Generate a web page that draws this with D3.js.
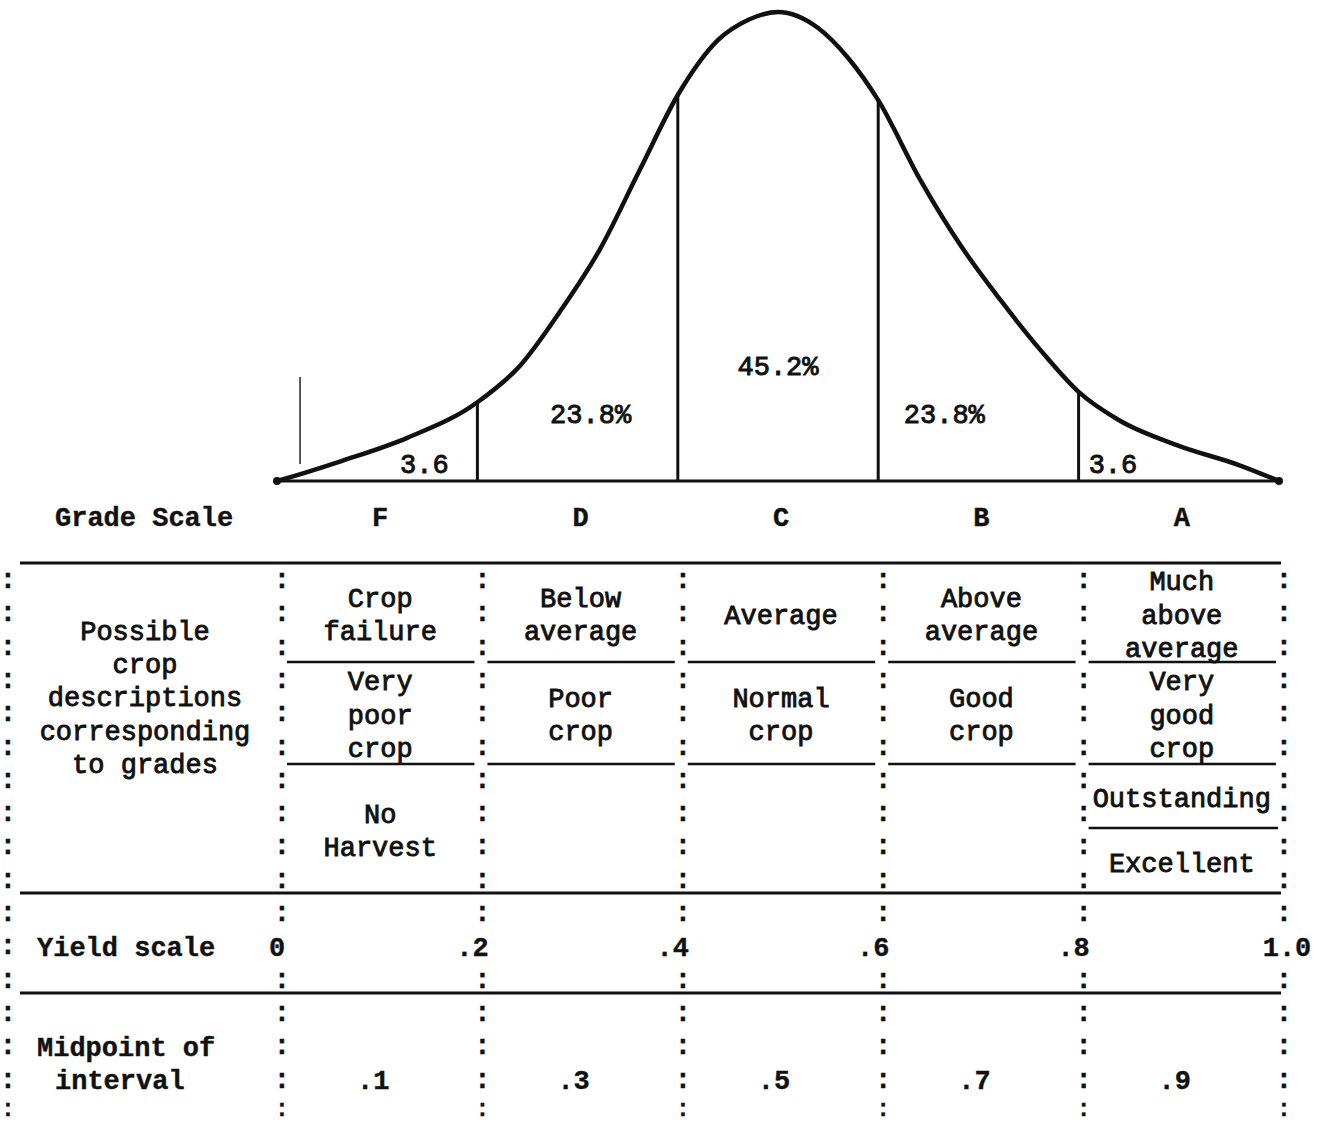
<!DOCTYPE html>
<html>
<head>
<meta charset="utf-8">
<script src="https://cdn.jsdelivr.net/npm/d3@7"></script>
<style>
  html, body { margin: 0; padding: 0; background: #fff; }
  svg { display: block; }
  text { font-family: 'Liberation Mono', 'DejaVu Sans Mono', monospace; fill: #111; }
</style>
</head>
<body>
<svg id="chart" width="1326" height="1124"></svg>
<script>
// ---------- data ----------
const grades = ["F", "D", "C", "B", "A"];
const gradePercents = ["3.6", "23.8%", "45.2%", "23.8%", "3.6"];
const yieldBounds = [0, 0.2, 0.4, 0.6, 0.8, 1.0];
const yieldLabels = ["0", ".2", ".4", ".6", ".8", "1.0"];
const midpoints = [0.1, 0.3, 0.5, 0.7, 0.9];
const midpointLabels = [".1", ".3", ".5", ".7", ".9"];

// hand-drawn distribution curve (relative height, peak = 100)
const curveYield   = [0, 0.03, 0.065, 0.13, 0.2, 0.243, 0.282, 0.322, 0.362, 0.4, 0.44, 0.47, 0.5, 0.54, 0.57, 0.6, 0.642, 0.682, 0.722, 0.762, 0.8, 0.84, 0.9, 0.96, 1.0];
const curveDensity = [0, 1.9, 4.3, 9.2, 16.8, 24.7, 36, 49.3, 66.3, 82.3, 94, 98.3, 100, 96.6, 90.2, 81.2, 64.2, 50.3, 38.6, 27.9, 19, 13, 7.5, 3.4, 0];

const descLabel = ["Possible", "crop", "descriptions", "corresponding", "to grades"];
const descRow1 = [["Crop", "failure"], ["Below", "average"], ["Average"], ["Above", "average"], ["Much", "above", "average"]];
const descRow2 = [["Very", "poor", "crop"], ["Poor", "crop"], ["Normal", "crop"], ["Good", "crop"], ["Very", "good", "crop"]];
const descRow3 = [["No", "Harvest"], [], [], [], ["Outstanding"]];
const descRow3b = [[], [], [], [], ["Excellent"]];

// ---------- layout ----------
const FS = 27;
const LH = 33.3;
const svg = d3.select("#chart");
const x = d3.scaleLinear().domain([0, 1]).range([277, 1279]);
const y = d3.scaleLinear().domain([0, 100]).range([481, 12]);

const pctPos = [0.147, 0.313, 0.5, 0.666, 0.833];
const pctY = [463, 413, 365, 413, 463];
const pctAnchor = ["middle", "middle", "middle", "middle", "start"];

function txt(g, s, tx, ty, opts = {}) {
  return g.append("text")
    .attr("x", tx).attr("y", ty)
    .attr("dy", "0.36em")
    .attr("text-anchor", opts.anchor || "middle")
    .attr("font-size", opts.size || FS)
    .attr("font-weight", opts.bold ? "bold" : "normal")
    .attr("stroke", "#111")
    .attr("stroke-width", opts.bold ? 0.4 : 0.9)
    .text(s);
}

// ---------- curve ----------
const gC = svg.append("g");
const pts = curveYield.map((v, i) => [v, curveDensity[i]]);
const line = d3.line().x(d => x(d[0])).y(d => y(d[1])).curve(d3.curveMonotoneX);

gC.append("line")
  .attr("x1", x(0) - 2).attr("x2", x(1) + 1)
  .attr("y1", y(0)).attr("y2", y(0))
  .attr("stroke", "#111").attr("stroke-width", 3);

yieldBounds.slice(1, -1).forEach(b => {
  const i = curveYield.indexOf(b);
  gC.append("line")
    .attr("x1", x(b)).attr("x2", x(b))
    .attr("y1", y(0)).attr("y2", y(curveDensity[i]))
    .attr("stroke", "#111").attr("stroke-width", 3);
});

gC.append("line")
  .attr("x1", x(0.023)).attr("x2", x(0.023))
  .attr("y1", 377).attr("y2", 464)
  .attr("stroke", "#222").attr("stroke-width", 1.5);

gC.append("path")
  .attr("d", line(pts))
  .attr("fill", "none")
  .attr("stroke", "#111")
  .attr("stroke-width", 4.5)
  .attr("stroke-linejoin", "round")
  .attr("stroke-linecap", "round");

[0, 1].forEach(v => gC.append("circle").attr("cx", x(v)).attr("cy", y(0)).attr("r", 4).attr("fill", "#111"));

gradePercents.forEach((p, i) => {
  txt(gC, p, x(pctPos[i]) + (pctAnchor[i] === "start" ? -23 : 0), pctY[i], { anchor: pctAnchor[i] });
});

// ---------- grade scale ----------
const gG = svg.append("g");
txt(gG, "Grade Scale", 55, 516, { anchor: "start", bold: true });
grades.forEach((g, i) => txt(gG, g, x(midpoints[i]) + 3, 516, { bold: true }));

// ---------- table ----------
const gT = svg.append("g");
const rowY = k => 580 + LH * k;
const colX = [8].concat(yieldBounds.map(b => x(b) + 5));

[563, 893, 993].forEach(yy => {
  gT.append("line").attr("x1", 20).attr("x2", 1281)
    .attr("y1", yy).attr("y2", yy)
    .attr("stroke", "#111").attr("stroke-width", 3);
});

[662, 764].forEach(yy => {
  for (let c = 1; c < colX.length - 1; c++) {
    gT.append("line")
      .attr("x1", colX[c] + 5).attr("x2", colX[c + 1] - 8)
      .attr("y1", yy).attr("y2", yy)
      .attr("stroke", "#111").attr("stroke-width", 2.5);
  }
});
gT.append("line")
  .attr("x1", colX[5] + 5).attr("x2", colX[6] - 6)
  .attr("y1", 828).attr("y2", 828)
  .attr("stroke", "#111").attr("stroke-width", 2.5);

// colon column separators
for (let k = 0; k <= 16; k++) {
  colX.forEach((cx, c) => {
    if (k === 11 && c > 0) return; // yield numbers row
    const last = k === 16;
    txt(gT, ":", cx, last ? 1108 : rowY(k) - 2, { bold: true, size: last ? 23 : 28 });
  });
}

descLabel.forEach((s, i) => txt(gT, s, 145, 630 + LH * i));

function cellBlock(lines, cx, cy) {
  const n = lines.length;
  lines.forEach((s, j) => txt(gT, s, cx, cy + (j - (n - 1) / 2) * LH));
}
const colCenter = c => (colX[c + 1] + colX[c + 2]) / 2 - 2;
descRow1.forEach((ls, c) => cellBlock(ls, colCenter(c), 614));
descRow2.forEach((ls, c) => cellBlock(ls, colCenter(c), 714));
descRow3.forEach((ls, c) => cellBlock(ls, colCenter(c), c === 4 ? 797 : 830));
descRow3b.forEach((ls, c) => cellBlock(ls, colCenter(c), 862));

txt(gT, "Yield scale", 37, rowY(11), { anchor: "start", bold: true });
yieldLabels.forEach((s, i) => {
  const dx = i === 0 ? 0 : (i === yieldLabels.length - 1 ? 8 : -5);
  txt(gT, s, x(yieldBounds[i]) + dx, rowY(11), { bold: true });
});

txt(gT, "Midpoint of", 37, rowY(14), { anchor: "start", bold: true });
txt(gT, "interval", 55, rowY(15), { anchor: "start", bold: true });
midpointLabels.forEach((s, i) => txt(gT, s, x(midpoints[i]) - 4, rowY(15), { bold: true }));
</script>
</body>
</html>
